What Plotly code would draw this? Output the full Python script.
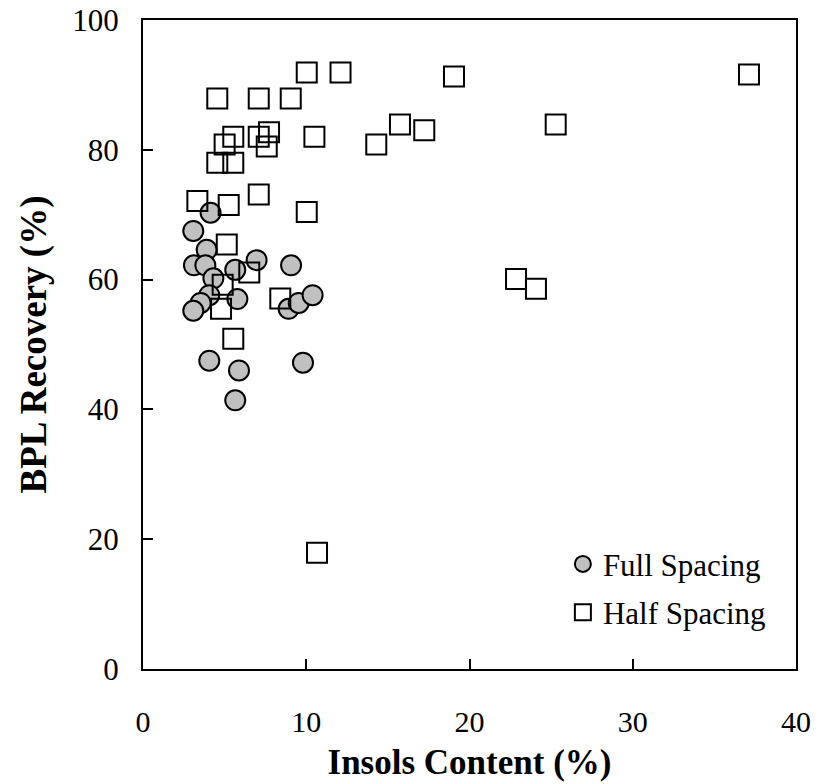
import plotly.graph_objects as go

full_x = [4.14, 3.08, 3.90, 3.12, 3.82, 5.65, 6.96, 9.07, 4.31, 4.06,
          5.78, 3.53, 3.08, 8.92, 9.54, 10.39, 4.06, 5.88, 9.80, 5.65]
full_y = [70.3, 67.5, 64.6, 62.2, 62.2, 61.5, 63.0, 62.2, 60.2, 57.6,
          57.0, 56.4, 55.2, 55.5, 56.4, 57.6, 47.5, 46.0, 47.2, 41.4]

half_x = [4.55, 7.09, 9.05, 10.03, 12.1, 19.05, 37.12, 5.53, 7.09, 7.72,
          7.58, 5.0, 10.5, 4.55, 5.53, 3.33, 5.25, 7.09, 10.03, 5.13,
          6.51, 4.88, 8.41, 4.78, 5.53, 15.74, 17.23, 14.29, 25.28, 22.85,
          24.07, 10.66]
half_y = [87.9, 87.9, 87.9, 91.9, 91.9, 91.3, 91.6, 82.0, 82.0, 82.7,
          80.5, 80.8, 82.0, 78.0, 78.0, 72.1, 71.5, 73.1, 70.4, 65.4,
          61.1, 59.2, 57.1, 55.5, 50.9, 83.9, 83.0, 80.8, 83.9, 60.1,
          58.6, 17.9]

x_ticks = [0, 10, 20, 30, 40]
y_ticks = [0, 20, 40, 60, 80, 100]

FONT = "Liberation Serif"

fig = go.Figure()
fig.add_trace(go.Scatter(
    x=full_x, y=full_y, mode="markers", name="Full Spacing",
    legendgroup="full",
    marker=dict(symbol="circle", size=20, color="#c0c0c0",
                line=dict(color="black", width=2)),
))
fig.add_trace(go.Scatter(
    x=half_x, y=half_y, mode="markers", name="Half Spacing",
    legendgroup="half",
    marker=dict(symbol="square", size=20, color="rgba(255,255,255,0)",
                line=dict(color="black", width=2)),
))

fig.update_layout(
    width=818, height=784,
    margin=dict(l=143, r=22, t=20, b=115, autoexpand=False),
    paper_bgcolor="white", plot_bgcolor="white",
    font=dict(family=FONT, color="black", size=30),
    showlegend=True,
    legend=dict(x=0.643, y=0.203, xanchor="left", yanchor="top",
                bgcolor="rgba(0,0,0,0)", font=dict(family=FONT, size=31),
                traceorder="grouped", tracegroupgap=5,
                itemsizing="trace"),
    xaxis=dict(range=[0, 40], tickvals=x_ticks, showgrid=False, zeroline=False,
               showline=True, linecolor="black", linewidth=2, mirror=True,
               ticks="inside", ticklen=10, tickwidth=1.5, tickcolor="black",
               ticklabelstandoff=25, automargin=False,
               tickfont=dict(family=FONT, size=30),
               title=dict(text="<b>Insols Content (%)</b>",
                          font=dict(family=FONT, size=35), standoff=12)),
    yaxis=dict(range=[0, 100], tickvals=y_ticks, showgrid=False, zeroline=False,
               showline=True, linecolor="black", linewidth=2, mirror=True,
               ticks="inside", ticklen=10, tickwidth=1.5, tickcolor="black",
               ticklabelstandoff=16, automargin=False,
               tickfont=dict(family=FONT, size=31),
               title=dict(text="<b>BPL Recovery (%)</b>",
                          font=dict(family=FONT, size=37), standoff=14)),
)

fig.write_html("out.html")
